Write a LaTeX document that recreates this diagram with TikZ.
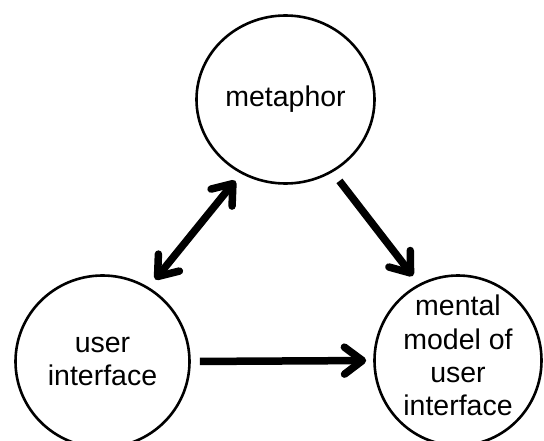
\documentclass[tikz,border=0pt]{standalone}
\usepackage{fontspec}
\setmainfont{Liberation Sans}
\usetikzlibrary{shapes.geometric,arrows.meta}
\begin{document}
\begin{tikzpicture}[x=1pt,y=-1pt,
  bubble/.style={draw=black, line width=2.6pt, ellipse, inner sep=0pt, align=center,
    font=\fontsize{28.5}{33.3}\selectfont},
  caption/.style={align=center, inner sep=0pt, font=\fontsize{28.5}{33.3}\selectfont},
  link/.style={line width=7.5pt, -{Straight Barb[length=18pt,width=27pt,round]}},
  link2/.style={line width=7.5pt, {Straight Barb[length=18pt,width=27pt,round]}-{Straight Barb[length=18pt,width=27pt,round]}}]
\useasboundingbox (0,0) rectangle (544,441);
\node[bubble, minimum width=178pt, minimum height=168pt] (met) at (285.5,99.5) {metaphor};
\node[bubble, minimum width=174pt, minimum height=172pt] (ui) at (102.5,361.5) {user\\interface};
\node[bubble, minimum width=167pt, minimum height=170pt] (mm) at (458,360.5) {};
\node[caption] (mmtext) at ([yshift=5pt]mm.center) {mental\\model of\\user\\interface};
\draw[link2, shorten <=10pt, shorten >=9pt] (ui.58) -- (met.239);
\draw[link, shorten <=11pt, shorten >=10pt] (met.303) -- (mm.117);
\draw[link, shorten <=9pt, shorten >=7pt] (ui.east) -- (mm.west);
\end{tikzpicture}
\end{document}
